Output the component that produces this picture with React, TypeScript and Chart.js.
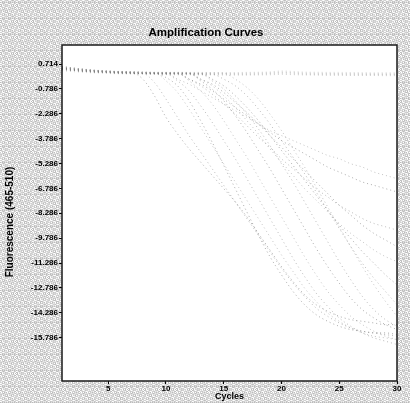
import React, { useEffect, useRef } from "react";
import { Chart, registerables } from "chart.js";

Chart.register(...registerables);

const TITLE = "Amplification Curves";
const X_TITLE = "Cycles";
const Y_TITLE = "Fluorescence (465-510)";

const CYCLES = [1,2,3,4,5,6,7,8,9,10,11,12,13,14,15,16,17,18,19,20,21,22,23,24,25,26,27,28,29,30];
const X_TICKS = [5, 10, 15, 20, 25, 30];
const Y_TICKS = [0.714, -0.786, -2.286, -3.786, -5.286, -6.786, -8.286, -9.786, -11.286, -12.786, -14.286, -15.786];

// baselines (pre-amplification part)
const BASE_A = [0.48,0.4,0.34,0.29,0.25,0.22,0.2,0.18,0.17,0.16,0.16,0.15,0.15,0.14,0.14,0.13];
const BASE_B = [0.4,0.33,0.27,0.23,0.2,0.17,0.15,0.14,0.13,0.12,0.12,0.11,0.11,0.1,0.1,0.1];
const BASE_C = [0.55,0.46,0.38,0.32,0.28,0.25,0.23,0.21,0.2,0.19,0.18,0.18,0.17,0.17,0.16,0.16];

// flat (negative) curves
const FLAT_1 = [0.5,0.42,0.35,0.3,0.26,0.24,0.22,0.2,0.2,0.19,0.18,0.18,0.17,0.17,0.16,0.16,0.17,0.18,0.2,0.25,0.22,0.18,0.17,0.16,0.15,0.15,0.14,0.14,0.13,0.13];
const FLAT_2 = [0.42,0.35,0.29,0.25,0.22,0.19,0.17,0.16,0.15,0.14,0.14,0.13,0.12,0.12,0.11,0.11,0.11,0.12,0.14,0.18,0.16,0.12,0.11,0.1,0.1,0.09,0.09,0.08,0.08,0.08];
const FLAT_3 = [0.56,0.47,0.4,0.34,0.3,0.27,0.25,0.24,0.23,0.22,0.22,0.21,0.21,0.2,0.2,0.2,0.21,0.22,0.24,0.3,0.27,0.23,0.22,0.21,0.21,0.2,0.2,0.19,0.19,0.19];
const FLAT_4 = [0.36,0.3,0.25,0.21,0.18,0.16,0.14,0.13,0.12,0.11,0.1,0.1,0.09,0.09,0.08,0.08,0.08,0.09,0.1,0.13,0.11,0.09,0.08,0.07,0.07,0.06,0.06,0.06,0.05,0.05];
const FLAT_5 = [0.46,0.39,0.33,0.28,0.25,0.23,0.21,0.2,0.19,0.18,0.17,0.16,0.16,0.15,0.15,0.14,0.15,0.16,0.17,0.21,0.19,0.16,0.15,0.14,0.13,0.13,0.12,0.12,0.12,0.11];
const FLAT_6 = [0.3,0.25,0.2,0.17,0.14,0.12,0.1,0.09,0.08,0.07,0.06,0.06,0.05,0.05,0.04,0.04,0.04,0.05,0.06,0.09,0.07,0.05,0.04,0.03,0.03,0.02,0.02,0.02,0.01,0.01];

// amplified curves (descent part, starting at the onset cycle)
const CURVE_A1 = { base: BASE_A, onset: 8, drop: [-0.2,-1.2,-2.5,-3.5,-4.4,-5.2,-6.0,-6.8,-7.6,-8.5,-9.5,-10.5,-11.5,-12.4,-13.2,-13.8,-14.2,-14.5,-14.7,-14.8,-14.9,-15.0,-15.0] };
const CURVE_A2 = { base: BASE_B, onset: 9, drop: [-0.4,-1.4,-2.5,-3.6,-4.6,-5.6,-6.6,-7.6,-8.6,-9.6,-10.6,-11.6,-12.5,-13.3,-14.0,-14.5,-14.9,-15.2,-15.4,-15.5,-15.6,-15.7] };
const CURVE_A3 = { base: BASE_C, onset: 10, drop: [-0.3,-1.0,-2.0,-3.1,-4.2,-5.3,-6.4,-7.5,-8.6,-9.7,-10.8,-11.8,-12.8,-13.6,-14.3,-14.8,-15.2,-15.5,-15.7,-15.8,-15.9] };
const CURVE_A4 = { base: BASE_A, onset: 10, drop: [-0.1,-0.6,-1.5,-2.7,-4.0,-5.4,-6.8,-8.2,-9.6,-10.9,-12.0,-13.0,-13.8,-14.4,-14.8,-15.1,-15.3,-15.4,-15.5,-15.5,-15.6] };
const CURVE_A5 = { base: BASE_B, onset: 11, drop: [-0.3,-0.9,-1.8,-2.8,-3.9,-5.0,-6.2,-7.4,-8.6,-9.8,-11.0,-12.1,-13.1,-13.9,-14.6,-15.1,-15.5,-15.8,-16.0,-16.2] };
const CURVE_A6 = { base: BASE_C, onset: 12, drop: [-0.3,-0.9,-1.7,-2.7,-3.8,-4.9,-6.1,-7.3,-8.5,-9.7,-10.9,-12.0,-13.0,-13.8,-14.5,-15.0,-15.4,-15.7,-15.9] };
const CURVE_A7 = { base: BASE_A, onset: 13, drop: [-0.3,-0.8,-1.5,-2.4,-3.4,-4.5,-5.6,-6.8,-8.0,-9.2,-10.4,-11.5,-12.5,-13.4,-14.1,-14.6,-15.0,-15.3] };
const CURVE_A8 = { base: BASE_B, onset: 14, drop: [-0.3,-0.8,-1.5,-2.3,-3.2,-4.2,-5.3,-6.4,-7.6,-8.8,-10.0,-11.2,-12.3,-13.3,-14.1,-14.7,-15.1] };
const CURVE_B1 = { base: BASE_C, onset: 11, drop: [-0.2,-0.5,-0.9,-1.3,-1.7,-2.1,-2.5,-2.9,-3.3,-3.6,-3.9,-4.2,-4.5,-4.8,-5.0,-5.3,-5.5,-5.8,-6.0,-6.2] };
const CURVE_B2 = { base: BASE_A, onset: 12, drop: [-0.2,-0.5,-0.9,-1.4,-1.9,-2.4,-2.9,-3.4,-3.9,-4.3,-4.7,-5.1,-5.5,-5.8,-6.1,-6.4,-6.6,-6.8,-7.0] };
const CURVE_B3 = { base: BASE_B, onset: 12, drop: [-0.2,-0.6,-1.1,-1.7,-2.3,-3.0,-3.7,-4.3,-5.0,-5.6,-6.2,-6.8,-7.3,-7.8,-8.2,-8.6,-8.9,-9.1,-9.3] };
const CURVE_B4 = { base: BASE_C, onset: 13, drop: [-0.2,-0.6,-1.2,-1.9,-2.7,-3.5,-4.4,-5.2,-6.0,-6.8,-7.5,-8.2,-8.9,-9.5,-10.0,-10.5,-10.9,-11.2] };
const CURVE_B5 = { base: BASE_A, onset: 14, drop: [-0.2,-0.6,-1.2,-1.9,-2.7,-3.6,-4.5,-5.4,-6.3,-7.2,-8.1,-9.0,-9.8,-10.6,-11.3,-12.0,-12.6] };
const CURVE_B6 = { base: BASE_B, onset: 15, drop: [-0.2,-0.6,-1.2,-2.0,-2.9,-3.9,-4.9,-5.9,-7.0,-8.1,-9.2,-10.3,-11.3,-12.2,-13.0,-13.8] };
const CURVE_B7 = { base: BASE_C, onset: 16, drop: [-0.2,-0.7,-1.4,-2.3,-3.3,-4.4,-5.5,-6.7,-7.9,-9.1,-10.3,-11.5,-12.6,-13.6,-14.5] };
const CURVE_B8 = { base: BASE_A, onset: 13, drop: [-0.2,-0.5,-1.0,-1.6,-2.2,-2.9,-3.6,-4.3,-5.0,-5.7,-6.4,-7.1,-7.8,-8.4,-9.0,-9.5,-9.9,-10.3] };

const FLAT_CURVES = [FLAT_1, FLAT_2, FLAT_3, FLAT_4, FLAT_5, FLAT_6];
const AMP_CURVES = [CURVE_A1, CURVE_A2, CURVE_A3, CURVE_A4, CURVE_A5, CURVE_A6, CURVE_A7, CURVE_A8,
  CURVE_B1, CURVE_B2, CURVE_B3, CURVE_B4, CURVE_B5, CURVE_B6, CURVE_B7, CURVE_B8];

const FONT = "'Liberation Sans', Arial, sans-serif";

function makePattern(ctx: CanvasRenderingContext2D) {
  const n = 16;
  const c = document.createElement("canvas");
  c.width = n;
  c.height = n;
  const p = c.getContext("2d")!;
  const tones = ["#f6f6f6", "#c4c4c4", "#e8e8e8", "#d0d0d0", "#ffffff", "#bcbcbc", "#dcdcdc"];
  for (let i = 0; i < n; i++) {
    for (let j = 0; j < n; j++) {
      const k = ((i + j) % 2 === 0 ? 0 : 1) + ((i * 5 + j * 3 + i * j) % 7 > 3 ? 2 : 0);
      p.fillStyle = tones[(k + ((i * j + i) % 3 === 0 ? 3 : 0)) % tones.length];
      p.fillRect(i, j, 1, 1);
    }
  }
  return ctx.createPattern(c, "repeat");
}

const framePlugin = {
  id: "frame",
  beforeDraw(chart: any) {
    const { ctx, chartArea: a, width, height } = chart;
    ctx.save();
    ctx.fillStyle = makePattern(ctx) || "#d8d8d8";
    ctx.fillRect(0, 0, width, height);
    ctx.fillStyle = "#ffffff";
    ctx.fillRect(a.left, a.top, a.right - a.left, a.bottom - a.top);
    ctx.restore();
  },
  afterDraw(chart: any) {
    const { ctx, chartArea: a } = chart;
    ctx.save();
    ctx.strokeStyle = "#1a1a1a";
    ctx.lineWidth = 1.5;
    ctx.strokeRect(a.left, a.top, a.right - a.left, a.bottom - a.top);
    ctx.fillStyle = "#000";
    ctx.textAlign = "center";
    ctx.textBaseline = "middle";
    ctx.font = `bold 11.5px ${FONT}`;
    ctx.fillText(TITLE, 206, 33);
    ctx.font = `bold 9px ${FONT}`;
    ctx.fillText(X_TITLE, (a.left + a.right) / 2, 397);
    ctx.font = `bold 10px ${FONT}`;
    ctx.translate(10, 222);
    ctx.rotate(-Math.PI / 2);
    ctx.fillText(Y_TITLE, 0, 0);
    ctx.restore();
  },
};

export default function App() {
  const ref = useRef<HTMLCanvasElement>(null);
  useEffect(() => {
    document.body.style.margin = "0";
    const datasets: any[] = [];
    FLAT_CURVES.forEach((vals, i) => {
      datasets.push({
        data: vals.map((v, j) => ({ x: CYCLES[j], y: v })),
        borderColor: i % 2 ? "rgba(130,130,130,0.3)" : "rgba(160,160,160,0.35)",
      });
    });
    AMP_CURVES.forEach((c, i) => {
      const vals = c.base.slice(0, c.onset - 1).concat(c.drop);
      datasets.push({
        data: vals.map((v, j) => ({ x: CYCLES[j], y: v })),
        borderColor: i % 3 === 0 ? "rgba(90,90,90,0.5)" : i % 3 === 1 ? "rgba(130,130,130,0.55)" : "rgba(165,165,165,0.65)",
      });
    });
    datasets.forEach((d) => {
      d.borderWidth = 1;
      d.borderDash = [1, 3];
      d.pointRadius = 0;
      d.fill = false;
      d.cubicInterpolationMode = "monotone";
    });
    const chart = new Chart(ref.current!, {
      type: "line",
      data: { datasets },
      plugins: [framePlugin],
      options: {
        animation: false,
        responsive: false,
        layout: { padding: { top: 45, right: 13, left: 0, bottom: 0 } },
        plugins: { legend: { display: false }, tooltip: { enabled: false }, title: { display: false } },
        scales: {
          x: {
            type: "linear",
            min: 1,
            max: 30,
            afterFit: (s: any) => { s.height = 22; },
            afterBuildTicks: (s: any) => { s.ticks = X_TICKS.map((v) => ({ value: v })); },
            grid: { drawOnChartArea: false, color: "#000", tickLength: 3 },
            border: { display: false },
            ticks: { color: "#000", font: { family: FONT, size: 8, weight: "bold" }, padding: 0, maxRotation: 0 },
          },
          y: {
            type: "linear",
            min: -18.4,
            max: 1.86,
            afterFit: (s: any) => { s.width = 62; },
            afterBuildTicks: (s: any) => { s.ticks = Y_TICKS.map((v) => ({ value: v })); },
            grid: { drawOnChartArea: false, color: "#000", tickLength: 3 },
            border: { display: false },
            ticks: {
              color: "#000",
              font: { family: FONT, size: 8, weight: "bold" },
              padding: 1,
              callback: (v: any) => Number(v).toFixed(3),
            },
          },
        },
      },
    });
    return () => chart.destroy();
  }, []);
  return <canvas ref={ref} width={410} height={403} style={{ display: "block" }} />;
}
